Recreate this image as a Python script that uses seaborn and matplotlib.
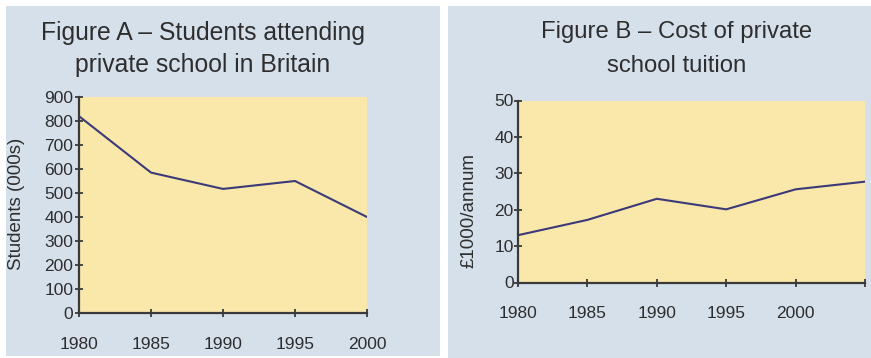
import matplotlib
matplotlib.use("Agg")
import matplotlib.pyplot as plt
from matplotlib.patches import Rectangle
import pandas as pd
import seaborn as sns

# Figure A: students attending private school (thousands)
years_a = [1980, 1985, 1990, 1995, 2000]
students_a = [820, 585, 517, 550, 400]

# Figure B: cost of private school tuition (£1000 per annum)
years_b = [1980, 1985, 1990, 1995, 2000, 2005]
cost_b = [13.0, 17.2, 23.0, 20.1, 25.6, 27.7]

xticks_a = [1980, 1985, 1990, 1995, 2000]
xticks_b = [1980, 1985, 1990, 1995, 2000, 2005]
xticklabels_b = ["1980", "1985", "1990", "1995", "2000", ""]

sns.set_style("white")
plt.rcParams["font.family"] = ["Liberation Sans", "DejaVu Sans"]

PANEL = "#d6e0eb"
FACE = "#f9e8aa"
LINE = "#3c3979"
TEXT = "#2e2e2e"
SPINE = "#3a3a3a"

W, H = 871, 358
fig = plt.figure(figsize=(W / 100, H / 100), dpi=100)
fig.patch.set_facecolor("white")


def px_rect(x0, y0, x1, y1):
    return [x0 / W, 1 - y1 / H, (x1 - x0) / W, (y1 - y0) / H]


# light blue panel backgrounds, drawn beneath the axes
for x0, y0, x1, y1 in [(6, 6, 440, 356), (448, 6, 871, 358)]:
    fig.patches.append(Rectangle((x0 / W, 1 - y1 / H), (x1 - x0) / W, (y1 - y0) / H,
                                 transform=fig.transFigure, facecolor=PANEL,
                                 edgecolor="none", zorder=-10))

ax_a = fig.add_axes(px_rect(79, 97, 367, 313))
ax_b = fig.add_axes(px_rect(518, 100.5, 865, 282.5))
ax_a.set_zorder(5)
ax_b.set_zorder(5)

df_a = pd.DataFrame({"year": years_a, "students": students_a})
df_b = pd.DataFrame({"year": years_b, "cost": cost_b})

sns.lineplot(data=df_a, x="year", y="students", ax=ax_a, color=LINE, linewidth=1.5)
sns.lineplot(data=df_b, x="year", y="cost", ax=ax_b, color=LINE, linewidth=1.5)


def style(ax, xlim, ylim, yticks, xticks, xlabels, ylabel, lab_xy, ypad):
    ax.set_facecolor(FACE)
    ax.set_xlim(*xlim)
    ax.set_ylim(*ylim)
    ax.set_yticks(yticks)
    ax.set_xticks(xticks)
    ax.set_xticklabels(xlabels)
    for s in ["top", "right"]:
        ax.spines[s].set_visible(False)
    for s in ["left", "bottom"]:
        ax.spines[s].set_color(SPINE)
        ax.spines[s].set_linewidth(1.6)
    ax.tick_params(axis="both", direction="inout", length=6, width=1.3,
                   color=SPINE, labelcolor=TEXT, labelsize=12.5,
                   bottom=True, left=True)
    ax.tick_params(axis="x", pad=14)
    ax.tick_params(axis="y", pad=ypad)
    ax.set_xlabel("")
    ax.set_ylabel(ylabel, fontsize=13.5, color=TEXT)
    ax.yaxis.set_label_coords(*lab_xy)


style(ax_a, (1980, 2000), (0, 900), range(0, 901, 100), xticks_a,
      [str(y) for y in xticks_a], "Students (000s)", (-0.1875, 0.507), 1)
style(ax_b, (1980, 2005), (0, 50), range(0, 51, 10), xticks_b,
      xticklabels_b, "£1000/annum", (-0.118, 0.398), 0)

# two-line panel titles
fig.text(203 / W, 1 - 33 / H, "Figure A – Students attending", ha="center",
         va="center", fontsize=17.8, color=TEXT)
fig.text(203 / W, 1 - 65 / H, "private school in Britain", ha="center",
         va="center", fontsize=17.8, color=TEXT)
fig.text(677 / W, 1 - 32 / H, "Figure B – Cost of private", ha="center",
         va="center", fontsize=17.2, color=TEXT)
fig.text(677 / W, 1 - 66 / H, "school tuition", ha="center",
         va="center", fontsize=17.2, color=TEXT)

fig.savefig("out.png", dpi=100, facecolor="white")
